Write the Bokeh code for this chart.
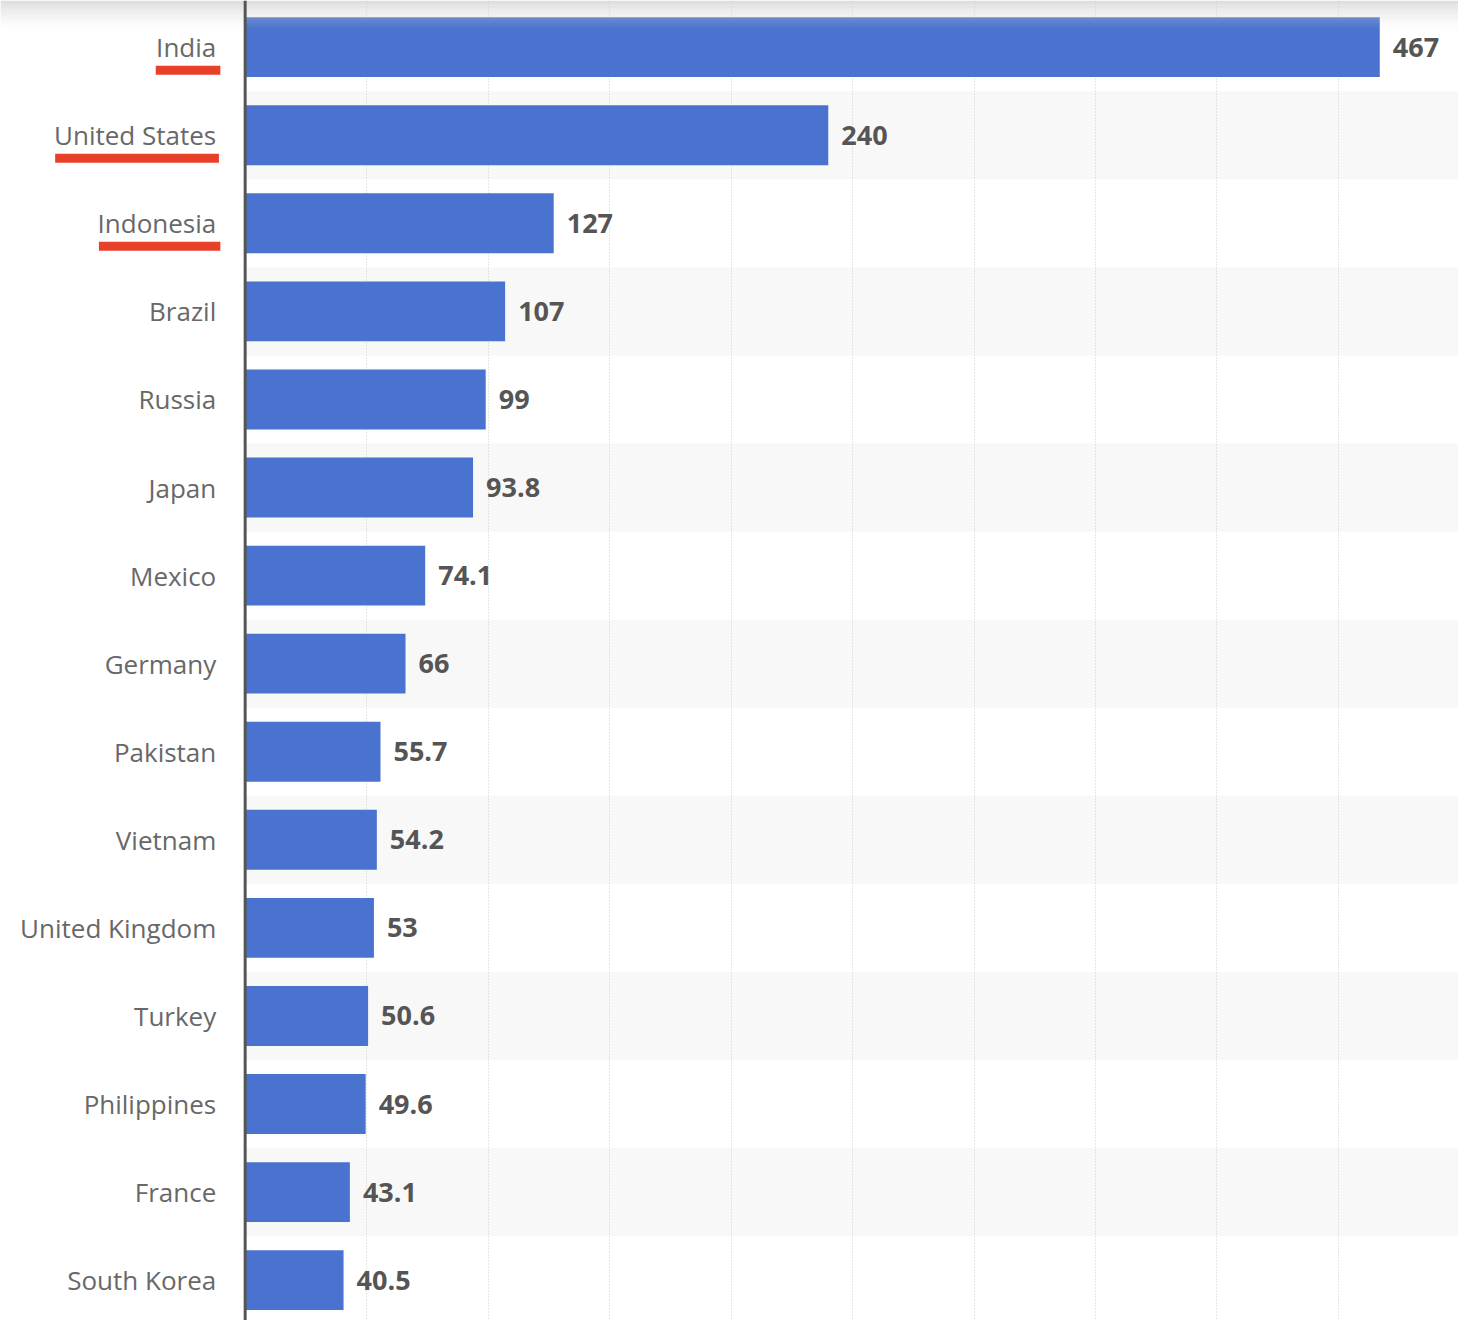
import numpy as np

from bokeh.core.properties import value
from bokeh.embed import file_html
from bokeh.models import BoxAnnotation, ColumnDataSource, FixedTicker, Range1d, Span
from bokeh.plotting import figure
from bokeh.resources import INLINE

#-------------- data ----------#
countries = ["India", "United States", "Indonesia", "Brazil", "Russia", "Japan",
             "Mexico", "Germany", "Pakistan", "Vietnam", "United Kingdom",
             "Turkey", "Philippines", "France", "South Korea"]
users = [467, 240, 127, 107, 99, 93.8, 74.1, 66, 55.7, 54.2, 53, 50.6, 49.6, 43.1, 40.5]
value_labels = ["467", "240", "127", "107", "99", "93.8", "74.1", "66", "55.7",
                "54.2", "53", "50.6", "49.6", "43.1", "40.5"]

# hand drawn red marks under some labels (left / right edge, in axis units)
marked = ["India", "United States", "Indonesia"]
mark_left = [-36.8, -78.2, -60.2]
mark_right = [-10.2, -10.8, -10.2]
#------------------------------#

W, H = 1458, 1320
x0, x1 = -100.7, 499.4        # visible x span
y_top, y_bot = -0.53, 14.458  # visible row span
row = H / (y_bot - y_top)     # pixels per row

pos = list(range(len(countries)))
src = ColumnDataSource(dict(y=pos, country=countries, users=users, lab=value_labels))

p = figure(width=W, height=H, output_backend="svg", toolbar_location=None,
           x_range=Range1d(x0, x1), y_range=Range1d(y_bot, y_top),
           min_border=0, outline_line_color=None)
p.xaxis.visible = False
p.yaxis.visible = False
p.ygrid.grid_line_color = None
p.xgrid.ticker = FixedTicker(ticks=[50, 100, 150, 200, 250, 300, 350, 400, 450])
p.xgrid.grid_line_color = "#cfcfcf"
p.xgrid.grid_line_dash = "1 2"
p.xgrid.grid_line_width = 1
p.xgrid.level = "underlay"

# alternating row shading
odd = [i for i in pos if i % 2 == 1]
p.hbar(y=odd, height=1.0, left=0, right=x1, fill_color="#f8f8f8",
       line_color=None, level="underlay")

# top shadow
for k in range(12):
    p.add_layout(BoxAnnotation(top=H - 2.5 * k, bottom=H - 2.5 * (k + 1),
                               top_units="screen", bottom_units="screen",
                               fill_color="#d6d6d6", fill_alpha=0.8 * (1 - k / 12) ** 1.5,
                               line_color=None))

p.hbar(y="y", right="users", left=0, height=0.68, source=src,
       fill_color="#4a73cf", line_color=None)

p.add_layout(Span(location=0, dimension="height", line_color="#555555", line_width=3))

p.text(x=-11.9, y="y", text="country", source=src, text_align="right",
       text_baseline="middle", text_font=value("Open Sans"), text_font_size="26px",
       text_color="#686868")

p.text(x="users", y="y", text="lab", source=src, x_offset=13, text_align="left",
       text_baseline="middle", text_font=value("Open Sans"), text_font_size="27px",
       text_font_style="bold", text_color="#555555")

mark_y = [countries.index(c) + 23 / row for c in marked]
p.hbar(y=mark_y, left=mark_left, right=mark_right, height=9 / row,
       fill_color="#e8412a", line_color=None)

open("out.html", "w").write(file_html(p, INLINE))
